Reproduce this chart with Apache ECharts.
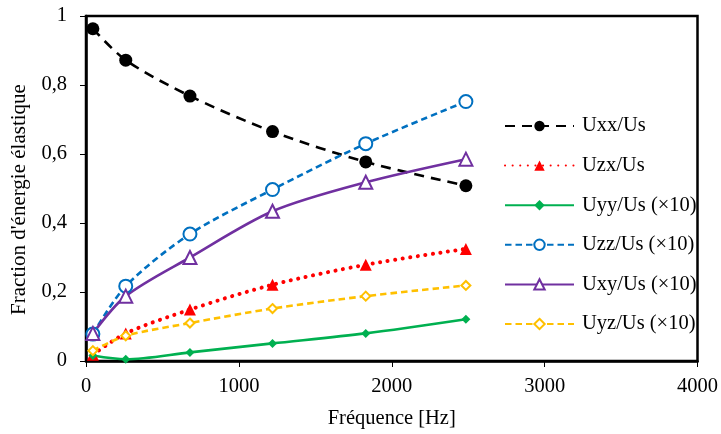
<!DOCTYPE html>
<html><head><meta charset="utf-8">
<script src="https://cdn.jsdelivr.net/npm/echarts@6/dist/echarts.min.js"></script>
<style>html,body{margin:0;padding:0;background:#fff}#c{width:721px;height:434px}</style>
</head><body><div id="c"></div>
<script>
const freq = [45, 260, 680, 1220, 1830, 2485];
const uxx = [0.963, 0.872, 0.768, 0.665, 0.577, 0.508];
const uzx = [0.018, 0.080, 0.149, 0.221, 0.279, 0.325];
const uyy = [0.016, 0.005, 0.025, 0.051, 0.080, 0.121];
const uzz = [0.078, 0.217, 0.368, 0.497, 0.630, 0.752];
const uxy = [0.080, 0.188, 0.300, 0.434, 0.518, 0.585];
const uyz = [0.030, 0.073, 0.110, 0.152, 0.188, 0.219];
const names = ['Uxx/Us', 'Uzx/Us', 'Uyy/Us (\u00d710)', 'Uzz/Us (\u00d710)', 'Uxy/Us (\u00d710)', 'Uyz/Us (\u00d710)'];
const xTicks = [0, 1000, 2000, 3000, 4000];
const yTicks = [0, 0.2, 0.4, 0.6, 0.8, 1];

const pair = arr => freq.map((f, i) => [f, arr[i]]);
const font = 'Liberation Serif';
const fs = 20.5;
function mk(name, arr, color, lineType, lw, symbol, size, filled) {
  return {
    name, type: 'line', data: pair(arr), smooth: 0.3,
    symbol, symbolSize: size, showSymbol: true,
    lineStyle: { color, width: lw, type: lineType },
    itemStyle: { color: filled ? color : '#fff', borderColor: color, borderWidth: filled ? 0 : 2 },
    emphasis: { disabled: true }
  };
}
const series = [
  mk(names[0], uxx, '#000000', [10, 7], 2.6, 'circle', 13, true),
  mk(names[1], uzx, '#FF0000', [0.1, 7.5], 4, 'triangle', 12, true),
  mk(names[2], uyy, '#00B050', 'solid', 2.6, 'diamond', 9, true),
  mk(names[3], uzz, '#0070C0', [6.5, 4], 2.6, 'circle', 13, false),
  mk(names[4], uxy, '#7030A0', 'solid', 2.6, 'triangle', 13, false),
  mk(names[5], uyz, '#FFC000', [6.5, 4], 2.6, 'diamond', 9, false)
];
series[1].lineStyle.cap = 'round';

const chart = echarts.init(document.getElementById('c'));
chart.setOption({
  animation: false,
  backgroundColor: '#fff',
  textStyle: { fontFamily: font },
  grid: { left: 86, top: 16, right: 22, bottom: 70, show: true, borderColor: '#000', borderWidth: 2.5, backgroundColor: 'transparent' },
  legend: {
    orient: 'vertical', left: 499, top: 109, itemGap: 15.6, itemWidth: 69, itemHeight: 13,
    textStyle: { fontFamily: font, fontSize: fs, lineHeight: 24, height: 24, color: '#000', padding: [0, 0, 0, 3] },
    data: names
  },
  xAxis: {
    type: 'value', min: 0, max: 4000, interval: 1000,
    name: 'Fréquence [Hz]', nameLocation: 'middle', nameGap: 47,
    nameTextStyle: { fontFamily: font, fontSize: fs, color: '#000' },
    axisLine: { lineStyle: { color: '#000', width: 2.5 } },
    axisTick: { show: true, inside: false, length: 6, lineStyle: { color: '#000', width: 1 } },
    axisLabel: { fontFamily: font, fontSize: fs, color: '#000', margin: 15, formatter: v => String(v) },
    splitLine: { show: false }
  },
  yAxis: {
    type: 'value', min: 0, max: 1, interval: 0.2,
    name: "Fraction d'énergie élastique", nameLocation: 'middle', nameGap: 53,
    nameTextStyle: { fontFamily: font, fontSize: 21, color: '#000', padding: [0, 22, 0, 0] },
    axisLine: { show: true, lineStyle: { color: '#000', width: 2.5 } },
    axisTick: { show: true, inside: false, length: 6, lineStyle: { color: '#000', width: 1 } },
    axisLabel: { fontFamily: font, fontSize: fs, color: '#000', margin: 19,
      formatter: v => (Math.round(v * 10) / 10).toString().replace('.', ',') },
    splitLine: { show: false }
  },
  series
});
</script></body></html>
